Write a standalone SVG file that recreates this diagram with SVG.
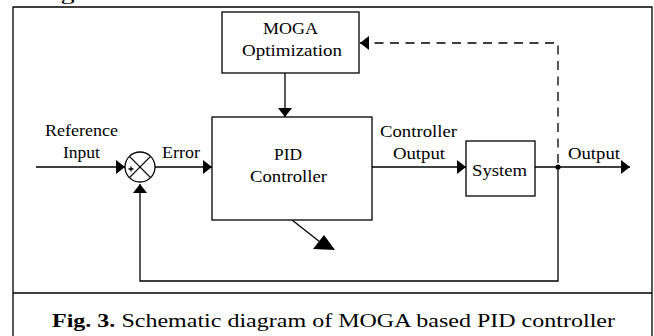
<svg xmlns="http://www.w3.org/2000/svg" width="654" height="336" viewBox="0 0 654 336">
  <style>
    .box { fill: #fff; stroke: #000; stroke-width: 1.3; }
    .wire { fill: none; stroke: #000; stroke-width: 1.3; }
    .dash { fill: none; stroke: #000; stroke-width: 1.3; stroke-dasharray: 9 6.5; }
    .lbl { font-family: "Liberation Serif", "Times New Roman", serif; font-size: 16.5px; fill: #000; text-anchor: middle; }
    .cap { font-family: "Liberation Serif", "Times New Roman", serif; font-size: 19.5px; fill: #000; }
  </style>
  <defs>
    <marker id="arr" markerWidth="10" markerHeight="14" refX="9" refY="7" orient="auto" markerUnits="userSpaceOnUse">
      <path d="M0,0 L9,7 L0,14 Z" fill="#000"/>
    </marker>
  </defs>

  <rect width="654" height="336" fill="#fff"/>

  <!-- tail of the preceding paragraph line, running off the top edge -->
  <text class="cap" x="18" y="-0.5" textLength="315" lengthAdjust="spacingAndGlyphs" fill="#666">assigned to each individual.</text>

  <!-- figure frame and caption divider -->
  <path class="wire" d="M13,340 L13,7 L652,7 L652,340"/>
  <line class="wire" x1="13" y1="293" x2="652" y2="293"/>

  <!-- connectors -->
  <g id="connectors">
    <line class="wire" x1="36" y1="167" x2="125" y2="167" marker-end="url(#arr)"/>
    <line class="wire" x1="155" y1="167" x2="212" y2="167" marker-end="url(#arr)"/>
    <line class="wire" x1="285" y1="73" x2="285" y2="117" marker-end="url(#arr)"/>
    <line class="wire" x1="372" y1="167" x2="466" y2="167" marker-end="url(#arr)"/>
    <line class="wire" x1="535" y1="167" x2="630" y2="167" marker-end="url(#arr)"/>
    <path class="wire" d="M558,167 L558,281 L140,281 L140,184" marker-end="url(#arr)"/>
    <path class="dash" d="M558,163 L558,43 L360,43" marker-end="url(#arr)"/>
    <circle cx="558" cy="167" r="2.6" fill="#000"/>
    <!-- tuning arrow under the controller -->
    <line class="wire" x1="292" y1="220" x2="320" y2="242"/>
    <polygon points="324,235 313,249 335,250" fill="#000"/>
  </g>

  <g id="moga">
    <rect class="box" x="222" y="12" width="137" height="61"/>
    <text class="lbl" x="290.5" y="34" textLength="55" lengthAdjust="spacingAndGlyphs">MOGA</text>
    <text class="lbl" x="292" y="56" textLength="100" lengthAdjust="spacingAndGlyphs">Optimization</text>
  </g>

  <g id="pid">
    <rect class="box" x="212" y="117" width="160" height="103"/>
    <text class="lbl" x="288" y="160" textLength="28" lengthAdjust="spacingAndGlyphs">PID</text>
    <text class="lbl" x="288.5" y="182" textLength="77" lengthAdjust="spacingAndGlyphs">Controller</text>
  </g>

  <g id="system">
    <rect class="box" x="466" y="141" width="69" height="55"/>
    <text class="lbl" x="499.5" y="176" textLength="55" lengthAdjust="spacingAndGlyphs">System</text>
  </g>

  <g id="sum">
    <circle class="box" cx="140" cy="167" r="15"/>
    <line class="wire" x1="129.4" y1="156.4" x2="150.6" y2="177.6"/>
    <line class="wire" x1="150.6" y1="156.4" x2="129.4" y2="177.6"/>
    <path class="wire" d="M128.5,169 h5 M131,166.5 v5" stroke-width="0.9"/>
  </g>

  <g id="labels">
    <text class="lbl" x="81.5" y="136" textLength="73" lengthAdjust="spacingAndGlyphs">Reference</text>
    <text class="lbl" x="81.5" y="158" textLength="37" lengthAdjust="spacingAndGlyphs">Input</text>
    <text class="lbl" x="181" y="158" textLength="38" lengthAdjust="spacingAndGlyphs">Error</text>
    <text class="lbl" x="418.5" y="137" textLength="77" lengthAdjust="spacingAndGlyphs">Controller</text>
    <text class="lbl" x="419" y="159" textLength="52" lengthAdjust="spacingAndGlyphs">Output</text>
    <text class="lbl" x="594" y="159" textLength="52" lengthAdjust="spacingAndGlyphs">Output</text>
  </g>

  <g id="caption">
    <text class="cap" x="52" y="327" textLength="563" lengthAdjust="spacingAndGlyphs"><tspan font-weight="bold">Fig. 3.</tspan> Schematic diagram of MOGA based PID controller</text>
  </g>
</svg>
